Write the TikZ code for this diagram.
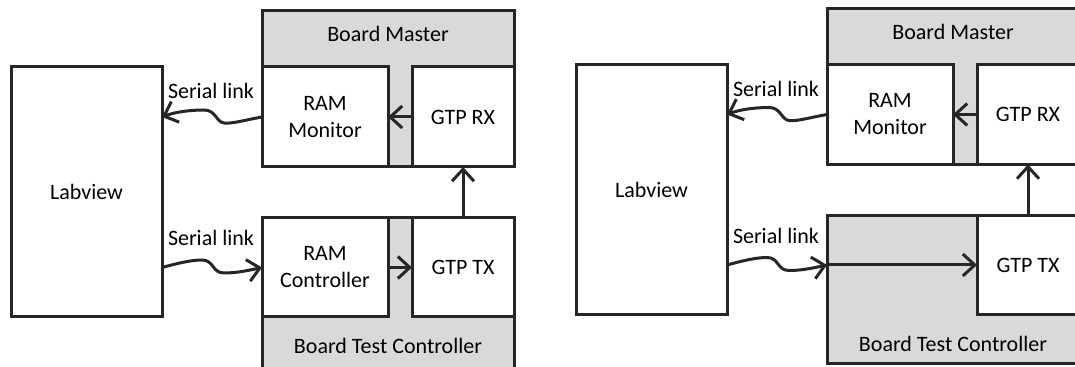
\documentclass[tikz,border=0pt]{standalone}
\usepackage{fontspec}
\setmainfont{Carlito}
\usetikzlibrary{arrows.meta,positioning}

\begin{document}
\begin{tikzpicture}[x=0.5pt,y=-0.5pt,>={Straight Barb[length=6pt,width=11pt]},font=\fontsize{11}{13.5}\selectfont]
  \tikzstyle{box}=[draw=black!85,fill=white,line width=1.5pt,anchor=north west,inner sep=0pt,outer sep=0pt,align=center,minimum width=63pt,minimum height=50pt]
  \tikzstyle{board}=[box,fill=black!15,minimum width=126pt]
  \tikzstyle{gtp}=[box,minimum width=51pt]
  \tikzstyle{link}=[draw=black!85,line width=1.5pt,->]
  \tikzstyle{title}=[anchor=base,inner sep=0pt]
  \useasboundingbox (0,0) rectangle (1075,367);

  % setup with RAM controller and RAM monitor
  \node[board,minimum height=78pt] (bm) at (262,11) {};
  \node[title] (bmTxt) at ([yshift=-15.5pt]bm.north) {Board Master};
  \node[box] (ramMon) at (262,67) {RAM\\Monitor};
  \node[gtp] (gtpRx) at (412,67) {GTP RX};
  \node[board,minimum height=76pt] (btc) at (262,218) {};
  \node[title] (btcTxt) at ([yshift=-68pt]btc.north) {Board Test Controller};
  \node[box,minimum height=49.5pt] (ramCtrl) at (262,218) {RAM\\Controller};
  \node[gtp,minimum height=49.5pt] (gtpTx) at (412,218) {GTP TX};
  \node[box,minimum width=75.5pt,minimum height=125pt] (lv) at (11,67) {Labview};
  \draw[link] (gtpRx.west) -- (ramMon.east);
  \draw[link] (ramCtrl.east) -- (gtpTx.west);
  \draw[link] (gtpTx.north) -- (gtpRx.south);
  \draw[link] (ramMon.west) .. controls (245,120) and (232,124) .. (224,123)
    .. controls (216,122) and (216,110) .. (204,110)
    .. controls (190,110) and (175,112) .. (lv.east |- ramMon.west);
  \draw[link] (lv.east |- ramCtrl.west) .. controls (175,264) and (190,260) .. (202,260)
    .. controls (214,260) and (212,273) .. (224,273)
    .. controls (238,273) and (250,270) .. (ramCtrl.west);
  \node[title] (slTop) at (211,99) {Serial link};
  \node[title] (slBot) at (211,246) {Serial link};

  % setup with Labview driving the GTP directly
  \begin{scope}[shift={(565,-2.5)}]
    \node[board,minimum height=78pt] (bmB) at (262,11) {};
    \node[title] (bmTxtB) at ([yshift=-15.5pt]bmB.north) {Board Master};
    \node[box] (ramMonB) at (262,67) {RAM\\Monitor};
    \node[gtp] (gtpRxB) at (412,67) {GTP RX};
    \node[board,minimum height=74pt] (btcB) at (262,218) {};
    \node[title] (btcTxtB) at ([yshift=-68pt]btcB.north) {Board Test Controller};
    \node[gtp,minimum height=49.5pt] (gtpTxB) at (412,218) {GTP TX};
    \node[box,minimum width=75.5pt,minimum height=125pt] (lvB) at (11,67) {Labview};
    \coordinate (btcIn) at (btcB.west |- gtpTxB.west);
    \draw[link] (gtpRxB.west) -- (ramMonB.east);
    \draw[link] (gtpTxB.north) -- (gtpRxB.south);
    \draw[link] (btcIn) -- (gtpTxB.west);
    \draw[link] (ramMonB.west) .. controls (245,120) and (232,124) .. (224,123)
      .. controls (216,122) and (216,110) .. (204,110)
      .. controls (190,110) and (175,112) .. (lvB.east |- ramMonB.west);
    \draw[link] (lvB.east |- btcIn) .. controls (175,264) and (190,260) .. (202,260)
      .. controls (214,260) and (212,273) .. (224,273)
      .. controls (238,273) and (250,270) .. (btcIn);
    \node[title] (slTopB) at (211,99) {Serial link};
    \node[title] (slBotB) at (211,246) {Serial link};
  \end{scope}
\end{tikzpicture}
\end{document}
